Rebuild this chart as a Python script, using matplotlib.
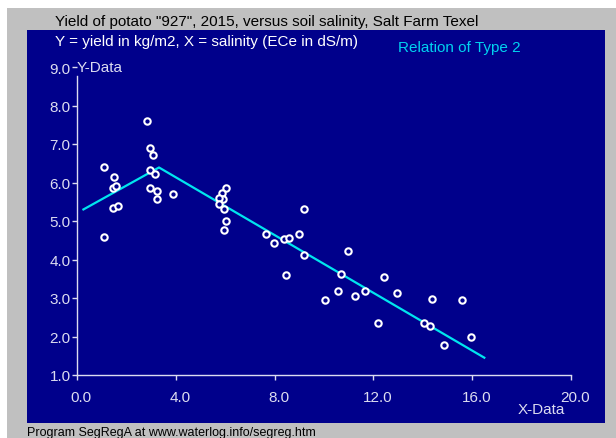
import matplotlib.pyplot as plt
import matplotlib.transforms as mtransforms
from matplotlib.patches import Rectangle

plt.rcParams['font.family'] = ['Liberation Sans', 'DejaVu Sans']

# measured yield of potato "927" (kg/m2) vs soil salinity ECe (dS/m)
salinity = [1.08, 1.49, 1.47, 1.57, 1.47, 1.65, 1.08,
            2.83, 2.96, 3.08, 2.96, 3.17, 2.96, 3.24, 3.24, 3.89,
            6.04, 5.88, 5.90, 5.76, 5.75, 5.96, 6.04, 5.96,
            7.65, 7.96, 9.18, 8.38, 8.57, 8.98, 9.18, 8.45,
            10.97, 10.70, 10.57, 10.04, 11.24, 11.65, 12.44, 12.96,
            12.17, 14.37, 15.57, 14.05, 14.29, 15.96, 14.85]
yield_kg = [6.41, 6.13, 5.87, 5.92, 5.33, 5.38, 4.59,
            7.60, 6.90, 6.72, 6.32, 6.22, 5.86, 5.78, 5.58, 5.69,
            5.87, 5.74, 5.57, 5.59, 5.45, 5.32, 5.00, 4.76,
            4.65, 4.44, 5.32, 4.53, 4.56, 4.66, 4.12, 3.60,
            4.22, 3.62, 3.19, 2.95, 3.06, 3.19, 3.54, 3.14,
            2.36, 2.98, 2.95, 2.34, 2.26, 2.00, 1.79]

# segmented regression line (breakpoint near 3.3 dS/m)
seg_x = [0.26, 3.32, 16.49]
seg_y = [5.30, 6.39, 1.45]

x_ticks = [0, 4, 8, 12, 16, 20]
y_ticks = [1, 2, 3, 4, 5, 6, 7, 8, 9]

W, H = 616, 439
navy = '#00008B'
pale = '#DCDCF0'

fig = plt.figure(figsize=(W / 100, H / 100), dpi=100, facecolor='white')
# grey window and navy plotting panel, in pixel units
fig.patches.append(Rectangle((7 / W, 0), 1, 1 - 9 / H, transform=fig.transFigure,
                             facecolor='#C0C0C0', edgecolor='none', zorder=-3))
fig.patches.append(Rectangle((27 / W, 1 - 424 / H), (605 - 27) / W, (424 - 31) / H,
                             transform=fig.transFigure, facecolor=navy,
                             edgecolor='none', zorder=-2))

ax = fig.add_axes([77 / W, 63 / H, (571 - 77) / W, (376 - 68) / H])
ax.set_facecolor('none')
ax.set_xlim(0, 20)
ax.set_ylim(1, 9)

ax.plot(seg_x, seg_y, color='#00E5EE', lw=1.6, zorder=2)
ax.plot(salinity, yield_kg, 'o', ms=4.6, mfc=navy, mec='white', mew=1.5, zorder=3)

for s in ['top', 'right']:
    ax.spines[s].set_visible(False)
for s in ['left', 'bottom']:
    ax.spines[s].set_color(pale)
    ax.spines[s].set_linewidth(1.0)
ax.spines['left'].set_bounds(1, 8.77)

ax.set_xticks(x_ticks)
ax.set_xticklabels(['%.1f' % v for v in x_ticks])
ax.set_yticks(y_ticks)
ax.set_yticklabels(['%.1f' % v for v in y_ticks])
ax.tick_params(axis='both', colors=pale, labelcolor=pale, labelsize=11,
               length=3.5, width=1.0, direction='out')
ax.tick_params(axis='x', pad=7)
ax.tick_params(axis='y', pad=1)
shift = mtransforms.ScaledTranslation(4 / 100, 0, fig.dpi_scale_trans)
for lab in ax.get_xticklabels():
    lab.set_transform(lab.get_transform() + shift)

ax.text(77 / W, 1 - 68 / H, 'Y-Data', transform=fig.transFigure, color=pale,
        fontsize=11, ha='left', va='center')
ax.text(541 / W, 1 - 410 / H, 'X-Data', transform=fig.transFigure, color=pale,
        fontsize=11, ha='center', va='center')

fig.text(55 / W, 1 - 22 / H, 'Yield of potato "927", 2015, versus soil salinity, Salt Farm Texel',
         color='black', fontsize=11, ha='left', va='center')
fig.text(55 / W, 1 - 42 / H, 'Y = yield in kg/m2, X = salinity (ECe in dS/m)',
         color='white', fontsize=11, ha='left', va='center')
fig.text(398 / W, 1 - 48 / H, 'Relation of Type 2', color='#00D2F0',
         fontsize=11, ha='left', va='center')
fig.text(27 / W, 1 - 433 / H, 'Program SegRegA at www.waterlog.info/segreg.htm',
         color='black', fontsize=9, ha='left', va='center')

fig.savefig('out.png', dpi=100, facecolor=fig.get_facecolor())
